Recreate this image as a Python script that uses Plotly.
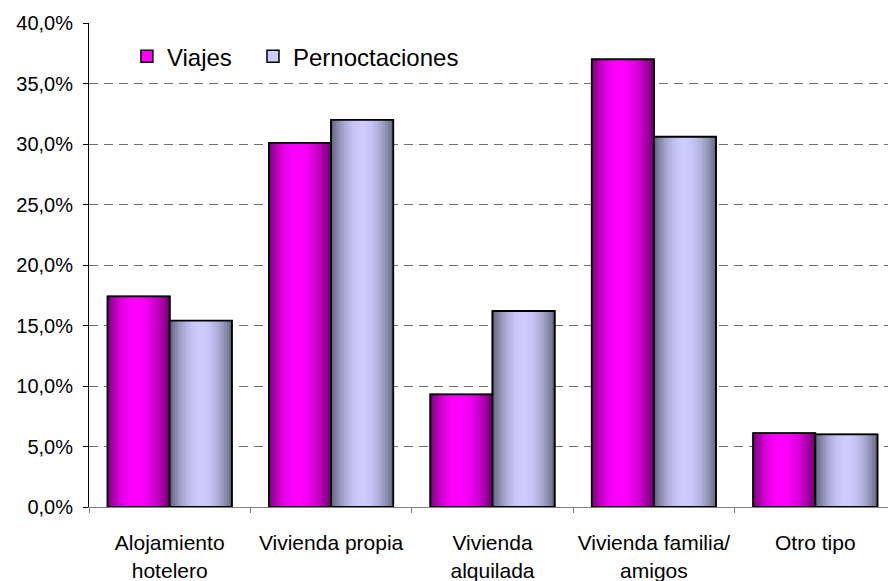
import plotly.graph_objects as go

categories = ["Alojamiento<br>hotelero", "Vivienda propia", "Vivienda<br>alquilada",
              "Vivienda familia/<br>amigos", "Otro tipo"]
viajes = [17.4, 30.1, 9.3, 37.0, 6.1]
pernoctaciones = [15.4, 32.0, 16.2, 30.6, 6.0]
series_names = ["Viajes", "Pernoctaciones"]

W = 0.385
N = 24

def mix(c1, c2, f):
    return "rgb(%d,%d,%d)" % tuple(round(a + (b - a) * f) for a, b in zip(c1, c2))

def shade(t, c, left, right, light):
    if t < c:
        u = (c - t) / c
        return mix(left, light, 1 - u ** 2)
    u = (t - c) / (1 - c)
    return mix(right, light, 1 - u ** 2)

styles = [
    dict(name=series_names[0], y=viajes, start=-W, left=(120, 0, 120), right=(104, 0, 104),
         light=(255, 0, 255), c=0.45, solid="#ff00ff", legend="legend"),
    dict(name=series_names[1], y=pernoctaciones, start=0.0, left=(96, 96, 122), right=(100, 100, 126),
         light=(204, 204, 255), c=0.5, solid="#ccccff", legend="legend2"),
]

fig = go.Figure()
for s in styles:
    fig.add_trace(go.Bar(x=categories, y=s["y"], name=s["name"], offset=s["start"], width=W,
                         marker=dict(color=s["solid"], line=dict(color="black", width=1.5)),
                         showlegend=True, legend=s["legend"]))
    for k in range(N):
        t = (k + 0.5) / N
        fig.add_trace(go.Bar(x=categories, y=s["y"], offset=s["start"] + k * W / N,
                             width=W - k * W / N,
                             marker=dict(color=shade(t, s["c"], s["left"], s["right"], s["light"]),
                                         line=dict(width=0)),
                             showlegend=False, hoverinfo="skip"))
    fig.add_trace(go.Bar(x=categories, y=s["y"], offset=s["start"], width=W,
                         marker=dict(color="rgba(0,0,0,0)", line=dict(color="black", width=1.8)),
                         showlegend=False, hoverinfo="skip"))

legend_style = dict(orientation="h", y=0.977, xanchor="left", yanchor="top",
                    font=dict(size=24), bgcolor="rgba(0,0,0,0)")

fig.update_layout(
    width=888, height=573,
    margin=dict(l=81, r=0, t=15, b=74),
    barmode="overlay",
    separators=",.",
    paper_bgcolor="white", plot_bgcolor="white",
    font=dict(family="Liberation Sans, Arial, sans-serif", size=19, color="black"),
    legend=dict(x=0.047, **legend_style),
    legend2=dict(x=0.2032, **legend_style),
    xaxis=dict(type="category", range=[-0.5, 4.5], tickson="boundaries", ticks="outside",
               ticklen=5, tickcolor="#808080", showline=True, linecolor="#808080", linewidth=1,
               showgrid=False, ticklabelstandoff=17, tickfont=dict(size=21), tickangle=0,
               automargin=False),
    yaxis=dict(range=[0, 40], dtick=5, tickformat=".1f", ticksuffix="%", ticks="outside",
               ticklen=5, tickcolor="black", showline=True, linecolor="black", linewidth=1,
               showgrid=True, gridcolor="#707070", gridwidth=1.2, griddash="9px,6px",
               zeroline=False, ticklabelstandoff=6, tickfont=dict(size=20), automargin=False),
)

fig.write_html("out.html")
